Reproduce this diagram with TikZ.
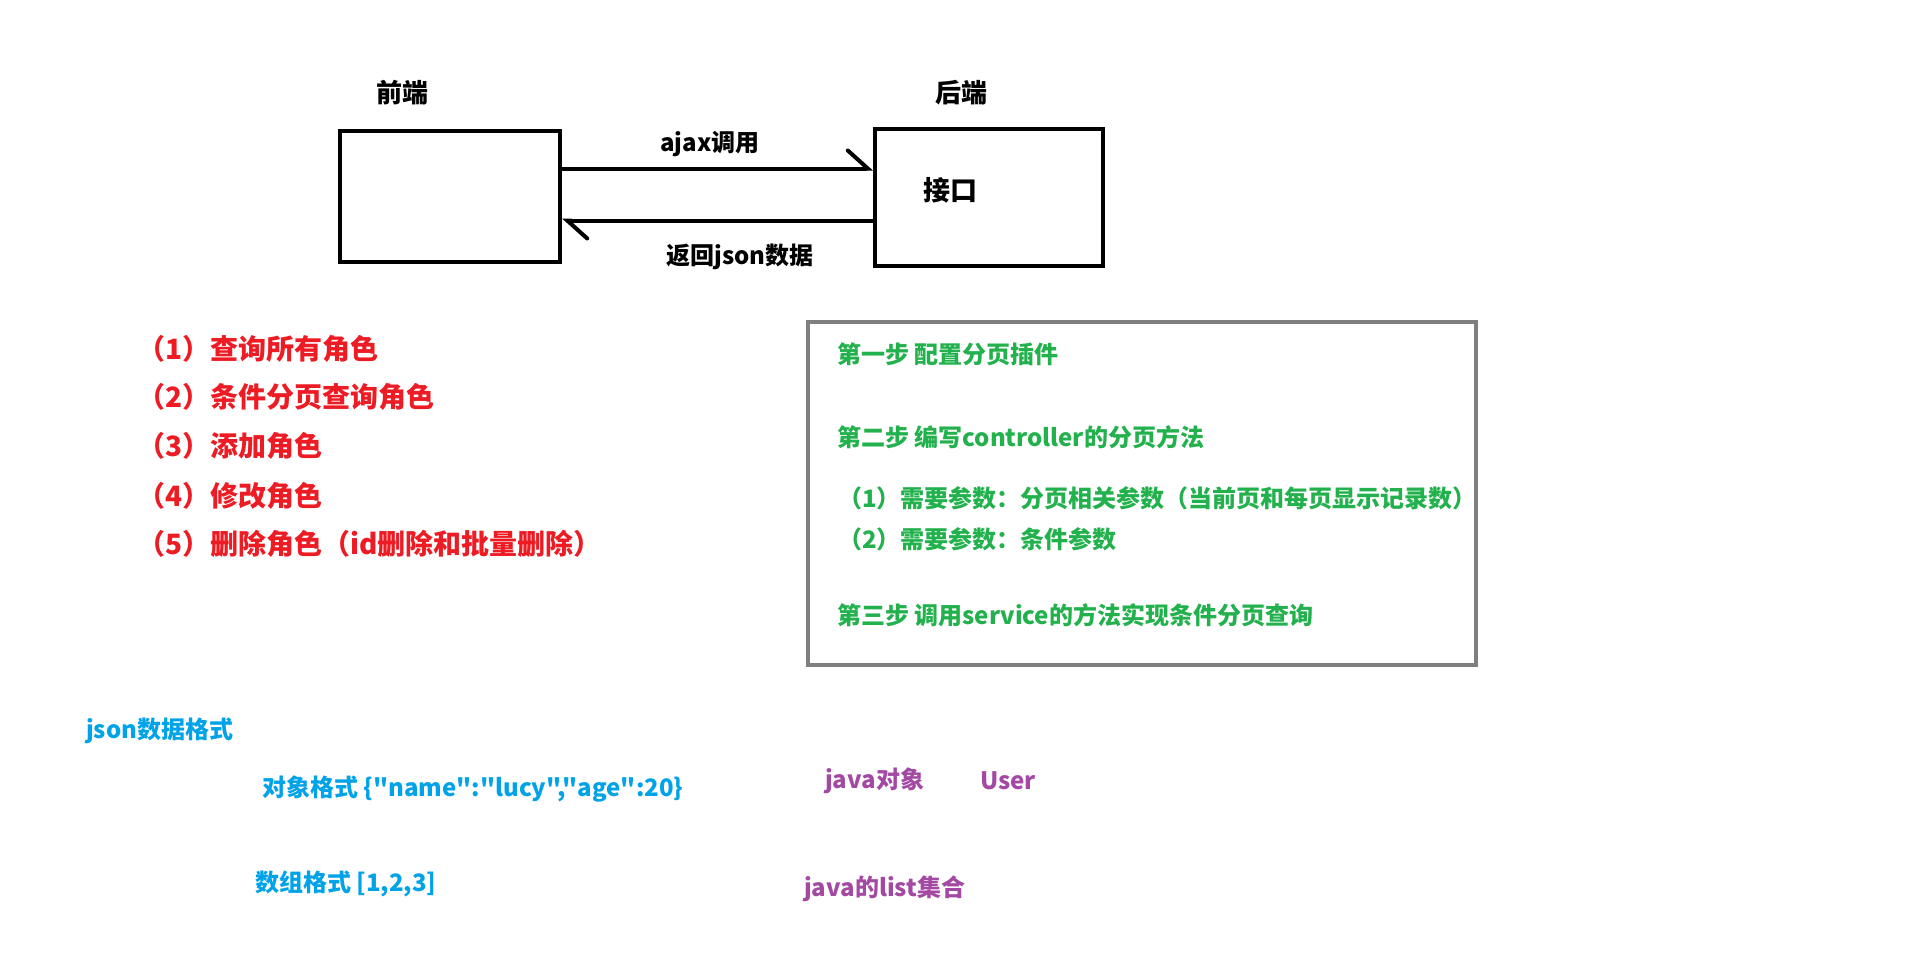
\documentclass[tikz,border=0pt]{standalone}
\usepackage{fontspec}
\setmainfont{Noto Sans CJK SC}[Ligatures=TeXOff]
\usetikzlibrary{arrows.meta}

\definecolor{paintred}{RGB}{237,28,36}
\definecolor{paintgreen}{RGB}{34,177,76}
\definecolor{paintblue}{RGB}{0,162,232}
\definecolor{paintpurple}{RGB}{163,73,164}
\definecolor{boxgray}{RGB}{127,127,127}

\tikzset{
	box/.style={draw,line width=4pt,rectangle,inner sep=0pt},
	link/.style={line width=4pt,line cap=round,-{Straight Barb[harpoon,length=20pt,width=36pt,line cap=round]}},
	lbl/.style={inner sep=0pt,font=\fontsize{24}{28}\selectfont\bfseries},
	big/.style={inner sep=0pt,font=\fontsize{27}{32}\selectfont\bfseries},
}

\begin{document}
\begin{tikzpicture}[x=1pt,y=-1pt]
	\useasboundingbox (0,0) rectangle (1905,958);
	
	% front and back end
	\node[box,minimum width=220,minimum height=131] (front) at (450,196.5) {};
	\node[box,minimum width=228,minimum height=137] (back) at (989,197.5) {};
	\node[big,anchor=base,font=\fontsize{26}{30}\selectfont\bfseries] (fronttitle) at (402,102) {前端};
	\node[big,anchor=base,font=\fontsize{26}{30}\selectfont\bfseries] (backtitle) at (961,102) {后端};
	\node[big,anchor=base] (iface) at (950,200) {接口};
	
	%arrows
	\draw[link] ([yshift=28pt]front.east) -- ([yshift=28pt]front.east -| back.west);
	\draw[link] ([yshift=-23pt]back.west) -- ([yshift=-23pt]back.west -| front.east);
	\node[lbl,anchor=base] (call) at (710,151) {ajax调用};
	\node[lbl,anchor=base] (reply) at (740,264) {返回json数据};
	
	% red list
	\node[big,anchor=base west,text=paintred,font=\fontsize{28}{32}\selectfont\bfseries] (todo1) at (137,359) {（1）查询所有角色};
	\node[big,anchor=base west,text=paintred,font=\fontsize{28}{32}\selectfont\bfseries] (todo2) at (137,407) {（2）条件分页查询角色};
	\node[big,anchor=base west,text=paintred,font=\fontsize{28}{32}\selectfont\bfseries] (todo3) at (137,456) {（3）添加角色};
	\node[big,anchor=base west,text=paintred,font=\fontsize{28}{32}\selectfont\bfseries] (todo4) at (137,506) {（4）修改角色};
	\node[big,anchor=base west,text=paintred,font=\fontsize{28}{32}\selectfont\bfseries] (todo5) at (137,554) {（5）删除角色（id删除和批量删除）};
	
	% steps
	\draw[line width=4pt,draw=boxgray] (808,322) rectangle (1476,665);
	\node[lbl,anchor=base west,text=paintgreen] (step1) at (837,363) {第一步 配置分页插件};
	\node[lbl,anchor=base west,text=paintgreen] (step2) at (837,446) {第二步 编写controller的分页方法};
	\node[lbl,anchor=base west,text=paintgreen] (param1) at (838,507) {（1）需要参数：分页相关参数（当前页和每页显示记录数）};
	\node[lbl,anchor=base west,text=paintgreen] (param2) at (838,548) {（2）需要参数：条件参数};
	\node[lbl,anchor=base west,text=paintgreen] (step3) at (837,624) {第三步 调用service的方法实现条件分页查询};
	
	% json
	\node[lbl,anchor=base west,text=paintblue] (json) at (86,738) {json数据格式};
	\node[lbl,anchor=base west,text=paintblue] (obj) at (262,796) {对象格式 \{"name":"lucy","age":20\}};
	\node[lbl,anchor=base west,text=paintblue] (arr) at (255,891) {数组格式 [1,2,3]};
	
	% java
	\node[lbl,anchor=base west,text=paintpurple] (jobj) at (825,788) {java对象};
	\node[lbl,anchor=base west,text=paintpurple] (user) at (980,789) {User};
	\node[lbl,anchor=base west,text=paintpurple] (jlist) at (804,896) {java的list集合};
\end{tikzpicture}
\end{document}
